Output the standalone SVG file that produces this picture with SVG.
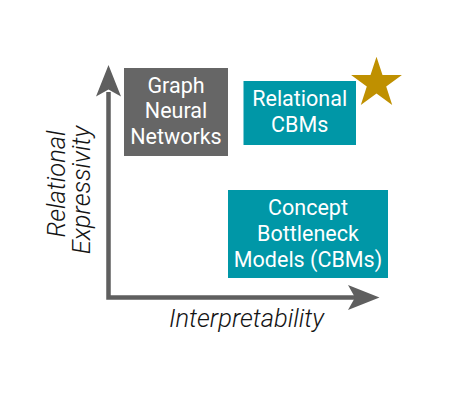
<svg xmlns="http://www.w3.org/2000/svg" width="453" height="408" viewBox="0 0 453 408">
<style>
.box-t{font-family:Roboto,"Liberation Sans",sans-serif;font-weight:400;font-size:21.5px;fill:#ffffff;text-anchor:middle}
.ax-t{font-family:Roboto,"Liberation Sans",sans-serif;font-weight:300;font-style:italic;font-size:25.5px;fill:#141414;text-anchor:middle}
.axis{stroke:#5f5f5f;stroke-width:4.5;fill:none}
.head{fill:#5f5f5f}
</style>
<rect width="453" height="408" fill="#ffffff"/>
<g id="connectors">
<path class="axis" d="M108.5,92 V297.5 H356"/>
<path class="head" d="M108.5,65 L121,96.5 L108.5,89.5 L96,96.5 Z"/>
<path class="head" d="M379.5,297.5 L348,285 L355,297.5 L348,310 Z"/>
</g>
<g id="gnn">
<rect x="124" y="68" width="104" height="88" fill="#666666"/>
<text class="box-t" x="176" y="92.7">Graph</text>
<text class="box-t" x="176" y="118.4">Neural</text>
<text class="box-t" x="176" y="144.1">Networks</text>
</g>
<g id="rcbm">
<rect x="243.5" y="81" width="112.5" height="64" fill="#0097a7"/>
<text class="box-t" x="299.7" y="106">Relational</text>
<text class="box-t" x="299.7" y="131.7">CBMs</text>
</g>
<g id="star">
<polygon fill="#bf9000" points="376.5,56.7 382.5,75.1 401.9,75.1 386.2,86.6 392.2,105 376.5,93.6 360.8,105 366.8,86.6 351.1,75.1 370.5,75.1"/>
</g>
<g id="cbm">
<rect x="228" y="190" width="160" height="88" fill="#0097a7"/>
<text class="box-t" x="308" y="215">Concept</text>
<text class="box-t" x="308" y="241">Bottleneck</text>
<text class="box-t" x="308" y="267.3">Models (CBMs)</text>
</g>
<g id="labels">
<text class="ax-t" x="246.5" y="326.7">Interpretability</text>
<text class="ax-t" transform="translate(65,184) rotate(-90)" x="0" y="0">Relational</text>
<text class="ax-t" transform="translate(90,190) rotate(-90)" x="0" y="0">Expressivity</text>
</g>
</svg>
